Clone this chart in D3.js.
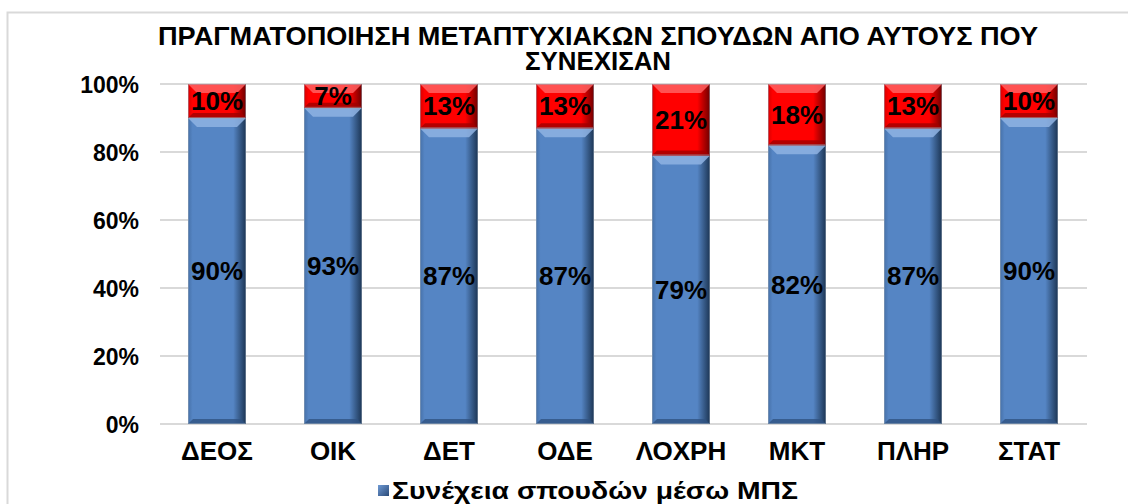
<!DOCTYPE html>
<html>
<head>
<meta charset="utf-8">
<script src="https://cdn.jsdelivr.net/npm/d3@7"></script>
<style>
  body { margin: 0; background: #fff; }
  text { font-family: "Liberation Sans", Arial, sans-serif; font-weight: bold; fill: #000; }
</style>
</head>
<body>
<div id="chart"></div>
<script>
// Data
const categories = ["ΔΕΟΣ", "ΟΙΚ", "ΔΕΤ", "ΟΔΕ", "ΛΟΧΡΗ", "ΜΚΤ", "ΠΛΗΡ", "ΣΤΑΤ"];
const viaMps = [0.90, 0.93, 0.87, 0.87, 0.79, 0.82, 0.87, 0.90];
const notViaMps = [0.10, 0.07, 0.13, 0.13, 0.21, 0.18, 0.13, 0.10];
const yTicks = [0, 0.2, 0.4, 0.6, 0.8, 1];
const titleLines = ["ΠΡΑΓΜΑΤΟΠΟΙΗΣΗ ΜΕΤΑΠΤΥΧΙΑΚΩΝ ΣΠΟΥΔΩΝ ΑΠΟ ΑΥΤΟΥΣ ΠΟΥ", "ΣΥΝΕΧΙΣΑΝ"];
const legendLabel = "Συνέχεια σπουδών μέσω ΜΠΣ";

const width = 1128, height = 504;

const svg = d3.select("#chart")
    .append("svg")
    .attr("width", width)
    .attr("height", height);

// outer chart border (right and bottom run off the picture)
svg.append("rect")
    .attr("x", 7.5).attr("y", 12.5)
    .attr("width", 1140).attr("height", 520)
    .attr("fill", "none")
    .attr("stroke", "#d9d9d9")
    .attr("stroke-width", 2);

const x = d3.scaleBand()
    .domain(categories)
    .range([159, 1087])
    .paddingInner(0.5)
    .paddingOuter(0.25);

const y = d3.scaleLinear()
    .domain([0, 1])
    .range([424, 84]);

// gradients for the bevelled look
const defs = svg.append("defs");
function sideGradient(id, light, base, dark) {
    const g = defs.append("linearGradient").attr("id", id)
        .attr("x1", "0%").attr("x2", "100%").attr("y1", "0%").attr("y2", "0%");
    g.append("stop").attr("offset", "0%").attr("stop-color", dark);
    g.append("stop").attr("offset", "8%").attr("stop-color", base);
    g.append("stop").attr("offset", "78%").attr("stop-color", base);
    g.append("stop").attr("offset", "100%").attr("stop-color", light);
}
sideGradient("blueGrad", "#1c3554", "#5585c4", "#4671a8");
sideGradient("redGrad", "#6e0000", "#ff0000", "#d80000");

// gridlines
svg.append("g")
    .selectAll("line")
    .data(yTicks)
    .join("line")
    .attr("x1", 160).attr("x2", 1087)
    .attr("y1", d => y(d)).attr("y2", d => y(d))
    .attr("stroke", "#d9d9d9")
    .attr("stroke-width", 2);

// y axis labels
const yAxis = svg.append("g")
    .attr("transform", "translate(139,0)")
    .call(d3.axisLeft(y).tickValues(yTicks).tickFormat(d3.format(".0%")).tickSize(0).tickPadding(0));
yAxis.select(".domain").remove();
yAxis.selectAll("text")
    .style("font-size", "23px")
    .style("font-family", "'Liberation Sans', Arial, sans-serif")
    .style("font-weight", "bold")
    .attr("dy", "0.36em");

// x axis labels
const xAxis = svg.append("g")
    .attr("transform", "translate(0,424)")
    .call(d3.axisBottom(x).tickSize(0).tickPadding(0));
xAxis.select(".domain").remove();
xAxis.selectAll("text")
    .style("font-size", "26px")
    .style("font-family", "'Liberation Sans', Arial, sans-serif")
    .style("font-weight", "bold")
    .attr("dy", "1.4em");

// stacked segments
const stacked = categories.map((c, i) => ({
    cat: c,
    segs: [
        { y0: 0, y1: viaMps[i], v: viaMps[i], grad: "url(#blueGrad)", top: "#8fb3e3", bottom: "#2f5282" },
        { y0: viaMps[i], y1: viaMps[i] + notViaMps[i], v: notViaMps[i], grad: "url(#redGrad)", top: "#ff6060", bottom: "#a00000" }
    ]
}));

const bw = x.bandwidth();
const bev = 9;

const groups = svg.append("g")
    .selectAll("g")
    .data(stacked)
    .join("g")
    .attr("transform", d => `translate(${x(d.cat)},0)`);

const segs = groups.selectAll("g.seg")
    .data(d => d.segs)
    .join("g")
    .attr("class", "seg");

segs.append("rect")
    .attr("x", 0)
    .attr("y", d => y(d.y1))
    .attr("width", bw)
    .attr("height", d => y(d.y0) - y(d.y1))
    .attr("fill", d => d.grad);

// top bevel
segs.append("path")
    .attr("d", d => {
        const t = y(d.y1);
        return `M0,${t} L${bw},${t} L${bw - bev},${t + bev} L${bev},${t + bev} Z`;
    })
    .attr("fill", d => d.top)
    .attr("opacity", 0.85);

// bottom shadow
segs.append("path")
    .attr("d", d => {
        const b = y(d.y0);
        return `M0,${b} L${bw},${b} L${bw - 5},${b - 5} L5,${b - 5} Z`;
    })
    .attr("fill", d => d.bottom)
    .attr("opacity", 0.8);

// thin outline
segs.append("rect")
    .attr("x", 0.5)
    .attr("y", d => y(d.y1) + 0.5)
    .attr("width", bw - 1)
    .attr("height", d => y(d.y0) - y(d.y1) - 1)
    .attr("fill", "none")
    .attr("stroke", "#9aa7b8")
    .attr("stroke-opacity", 0.5);

// data labels
segs.append("text")
    .attr("x", bw / 2)
    .attr("y", d => y((d.y0 + d.y1) / 2))
    .attr("dy", "0.36em")
    .attr("text-anchor", "middle")
    .style("font-size", "26px")
    .text(d => d3.format(".0%")(d.v));

// title
svg.append("g")
    .selectAll("text")
    .data(titleLines)
    .join("text")
    .attr("x", 598)
    .attr("y", (d, i) => 45 + i * 25)
    .attr("text-anchor", "middle")
    .style("font-size", "25px")
    .attr("textLength", (d, i) => i === 0 ? 880 : 146)
    .attr("lengthAdjust", "spacingAndGlyphs")
    .text(d => d);

// legend
const legend = svg.append("g").attr("transform", "translate(378,485)");
const lg = defs.append("linearGradient").attr("id", "legGrad")
    .attr("x1", "0%").attr("x2", "100%").attr("y1", "0%").attr("y2", "100%");
lg.append("stop").attr("offset", "0%").attr("stop-color", "#6f9ad4");
lg.append("stop").attr("offset", "100%").attr("stop-color", "#2a4a78");
legend.append("rect")
    .attr("width", 11).attr("height", 11)
    .attr("fill", "url(#legGrad)");
legend.append("text")
    .attr("x", 14)
    .attr("y", 14)
    .style("font-size", "24px")
    .attr("textLength", 406)
    .attr("lengthAdjust", "spacingAndGlyphs")
    .text(legendLabel);
</script>
</body>
</html>
